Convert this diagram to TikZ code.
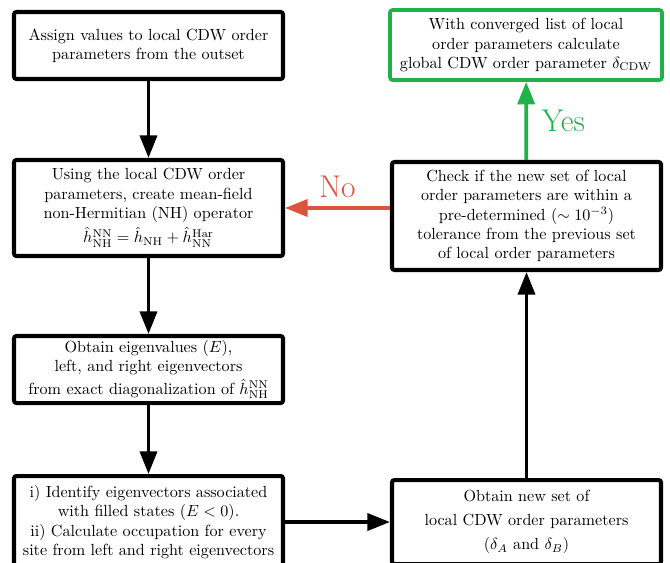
\documentclass[tikz,border=0pt]{standalone}
\usepackage{amsmath, amssymb}
\usetikzlibrary{arrows.meta}
\usetikzlibrary{shapes}
\definecolor{yesGreen}{RGB}{30,178,72}
\definecolor{noRed}{RGB}{219,84,62}

\begin{document}
\begin{tikzpicture}[x = 0.62pt, y = -0.62pt, font=\normalsize]
	\tikzstyle{boxStyle}=[shape = rectangle, draw, line width = 2.5pt, rounded corners = 1.5pt, align = center, inner sep = 2pt, fill = white]
	\tikzstyle{greenBoxStyle}=[boxStyle, draw = yesGreen, line width = 2.2pt]
	\tikzstyle{arrowStyle}=[line width = 2.3pt, -{Triangle[length = 14pt, width = 10.5pt]}]
	\tikzstyle{answerStyle}=[font = \fontsize{19.5pt}{23pt}\selectfont]
	\useasboundingbox (0, 0) rectangle (670, 562);
	\node[boxStyle, minimum width = 269*0.62pt, minimum height = 67*0.62pt] (b0) at (148.5, 45.5) {Assign values to local CDW order\\ parameters from the outset};
	\node[boxStyle, minimum width = 269*0.62pt, minimum height = 96*0.62pt] (b1) at (148.5, 208) {Using the local CDW order\\ parameters, create mean-field\\ non-Hermitian (NH) operator\\[2pt] $\hat{h}_{\mathrm{NH}}^{\mathrm{NN}} = \hat{h}_{\mathrm{NH}} + \hat{h}_{\mathrm{NN}}^{\mathrm{Har}}$};
	\node[boxStyle, minimum width = 269*0.62pt, minimum height = 67*0.62pt] (b2) at (148.5, 369.5) {Obtain eigenvalues ($E$),\\ left, and right eigenvectors\\[2pt] from exact diagonalization of $\hat{h}_{\mathrm{NH}}^{\mathrm{NN}}$};
	\node[boxStyle, minimum width = 269*0.62pt, minimum height = 92*0.62pt] (b3) at (148.5, 522) {i) Identify eigenvectors associated\\ with filled states ($E<0$).\\ ii) Calculate occupation for every\\ site from left and right eigenvectors};
	\node[boxStyle, minimum width = 269*0.62pt, minimum height = 84*0.62pt] (b4) at (526.5, 522) {Obtain new set of\\[3pt] local CDW order parameters\\[3pt] ($\delta_A$ and $\delta_B$)};
	\node[boxStyle, minimum width = 269*0.62pt, minimum height = 108*0.62pt] (b5) at (526.5, 216) {Check if the new set of local\\ order parameters are within a\\ pre-determined ($\sim 10^{-3}$)\\ tolerance from the previous set\\ of local order parameters};
	\node[greenBoxStyle, minimum width = 272*0.62pt, minimum height = 70*0.62pt] (b6) at (526, 45) {With converged list of local\\ order parameters calculate\\ global CDW order parameter $\delta_{\mathrm{CDW}}$};
	\draw[arrowStyle] (b0) -- (b1);
	\draw[arrowStyle] (b1) -- (b2);
	\draw[arrowStyle] (b2) -- (b3);
	\draw[arrowStyle] (b3) -- (b4);
	\draw[arrowStyle] (b4) -- (b5);
	\draw[arrowStyle, yesGreen] (b5) -- node[answerStyle, right = 5pt] {Yes} (b6);
	\draw[arrowStyle, noRed] (b5.west |- b1.east) -- node[answerStyle, above = 2pt] {No} (b1.east);
\end{tikzpicture}
\end{document}
